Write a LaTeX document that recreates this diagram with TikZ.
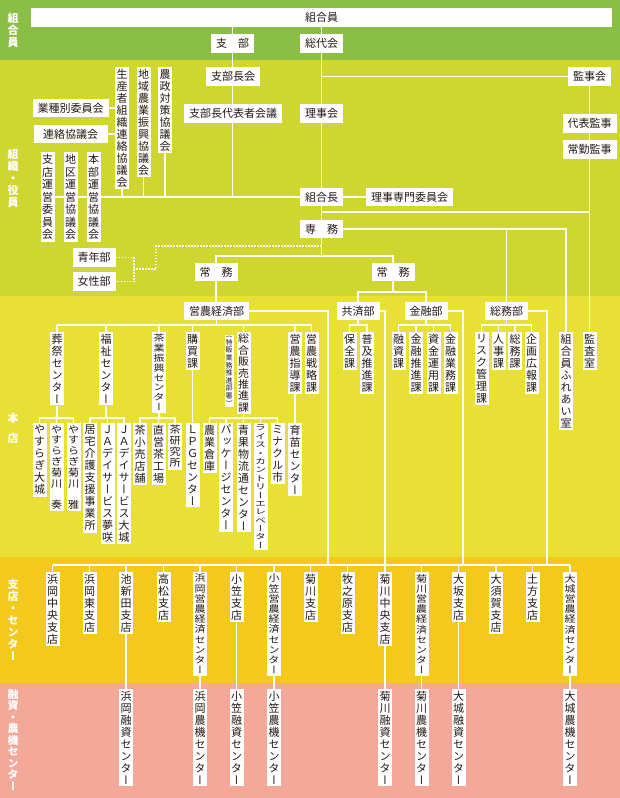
\documentclass[tikz,border=0pt]{standalone}
\usepackage{fontspec}
\setmainfont{Noto Sans CJK JP}
\newfontfamily\jpfont{Noto Sans CJK JP}
\newfontfamily\jpvfont{Noto Sans CJK JP}[RawFeature=+vert]
\usetikzlibrary{calc}

\definecolor{bandkumiai}{HTML}{8BBE45}
\definecolor{bandyakuin}{HTML}{CFD630}
\definecolor{bandhonten}{HTML}{E8E034}
\definecolor{bandshiten}{HTML}{F4C91E}
\definecolor{bandyuushi}{HTML}{F3A899}
\definecolor{ink}{HTML}{231815}

\pgfdeclarelayer{bands}
\pgfdeclarelayer{links}
\pgfsetlayers{bands,links,main}

% vertical text: one glyph per row, optional squeeze factor
\makeatletter
\newcommand\vt[2][1]{%
  \vbox{\baselineskip=#1\dimexpr1.09em\relax\lineskiplimit=-\maxdimen\lineskip=0pt
    \@tfor\vt@c:=#2\do{\hbox to 1em{\hss\ifdim#1pt<1pt\scalebox{1}[#1]{\vt@c}\else\vt@c\fi\hss}}}}
\makeatother

\tikzset{
  hbox/.style={fill=white, text=ink, font=\jpfont\fontsize{11bp}{11bp}\selectfont,
    inner xsep=5bp, inner ysep=0pt, minimum height=18.5bp},
  vbox/.style={fill=white, text=ink, font=\jpvfont\fontsize{11bp}{11bp}\selectfont,
    inner xsep=1.5bp, inner ysep=2bp, anchor=north},
  smallv/.style={font=\jpvfont\fontsize{7bp}{7bp}\selectfont, inner xsep=1bp, inner ysep=1bp},
  bandlabel/.style={text=white, font=\jpvfont\bfseries\fontsize{11bp}{11bp}\selectfont,
    inner sep=0pt, anchor=north},
  link/.style={draw=white, line width=1.3bp},
  dotlink/.style={link, dash pattern=on 1.4bp off 1.6bp}
}

\begin{document}
\begin{tikzpicture}[x=1bp, y=-1bp, line join=bevel]
  \useasboundingbox (0,0) rectangle (620,798);

  % band labels
  \node[bandlabel] (lblKumiai) at (13,13) {\vt{組合員}};
  \node[bandlabel] (lblYakuin) at (13,149) {\vt{組織・役員}};
  \node[bandlabel] (lblHonten) at (13,413) {\vt[1.67]{本店}};
  \node[bandlabel] (lblShiten) at (13,579) {\vt{支店・センター}};
  \node[bandlabel] (lblYuushi) at (13,689) {\vt[0.96]{融資・農機センター}};

  % 組合員
  \node[hbox, minimum width=581bp] (kumiaiin) at (321.5,17.5) {組合員};
  \node[hbox] (sibu) at (232.5,43.5) {支\hspace{1em}部};
  \node[hbox] (soudaikai) at (321.5,43.5) {総代会};

  % 組織・役員
  \node[hbox] (sibuchoukai) at (233,76.5) {支部長会};
  \node[hbox] (kanjikai) at (589.5,76.5) {監事会};
  \node[hbox, minimum width=74bp] (gyoushu) at (70.5,108) {業種別委員会};
  \node[hbox, minimum width=74bp] (renraku) at (70.5,134) {連絡協議会};
  \node[vbox] (seisansha) at (122,67) {\vt{生産者組織連絡協議会}};
  \node[vbox] (chiiki) at (143.5,67) {\vt{地域農業振興協議会}};
  \node[vbox] (nousei) at (165,67) {\vt{農政対策協議会}};
  \node[hbox] (sibudaihyou) at (233,113.5) {支部長代表者会議};
  \node[hbox] (rijikai) at (321.5,113.5) {理事会};
  \node[hbox] (daihyoukanji) at (589.5,123.5) {代表監事};
  \node[hbox] (joukinkanji) at (589.5,149.5) {常勤監事};
  \node[vbox] (shitenunei) at (47.5,152) {\vt[1.05]{支店運営委員会}};
  \node[vbox] (chikuunei) at (70.5,152) {\vt[1.05]{地区運営協議会}};
  \node[vbox] (honbuunei) at (93.5,152) {\vt[1.05]{本部運営協議会}};
  \node[hbox] (kumiaichou) at (321.5,197) {組合長};
  \node[hbox] (senmoniin) at (409.5,197) {理事専門委員会};
  \node[hbox] (senmu) at (321.5,229) {専\hspace{1em}務};
  \node[hbox] (seinenbu) at (94,257.5) {青年部};
  \node[hbox] (joseibu) at (94,281.5) {女性部};
  \node[hbox] (joumuL) at (216,272) {常\hspace{1em}務};
  \node[hbox] (joumuR) at (393,272) {常\hspace{1em}務};

  % 本店
  \node[hbox] (einou) at (216.5,311) {営農経済部};
  \node[hbox] (kyousai) at (358,311) {共済部};
  \node[hbox] (kinyuu) at (426,311) {金融部};
  \node[hbox] (soumu) at (506.5,311) {総務部};

  \node[vbox] (sousai) at (57,332) {\vt{葬祭センター}};
  \node[vbox] (fukushi) at (106,332) {\vt{福祉センター}};
  \node[vbox] (chagyou) at (159,332) {\vt[0.82]{茶業振興センター}};
  \node[vbox] (koubai) at (192.5,332) {\vt{購買課}};
  \node[vbox, smallv] (tokuhan) at (229,335) {\vt{（特販業務推進部署）}};
  \node[vbox] (sougou) at (243.5,332) {\vt[0.95]{総合販売推進課}};
  \node[vbox] (shidou) at (295,332) {\vt{営農指導課}};
  \node[vbox] (senryaku) at (311.5,332) {\vt{営農戦略課}};
  \node[vbox] (hozen) at (349.5,332) {\vt{保全課}};
  \node[vbox] (fukyuu) at (367,332) {\vt{普及推進課}};
  \node[vbox] (yuushika) at (398.5,332) {\vt{融資課}};
  \node[vbox] (kinsuishin) at (416,332) {\vt{金融推進課}};
  \node[vbox] (shikin) at (433.5,332) {\vt{資金運用課}};
  \node[vbox] (kingyoumu) at (450.5,332) {\vt{金融業務課}};
  \node[vbox] (risk) at (481.5,332) {\vt{リスク管理課}};
  \node[vbox] (jinji) at (498.5,332) {\vt{人事課}};
  \node[vbox] (soumuka) at (515,332) {\vt{総務課}};
  \node[vbox] (kikaku) at (531.5,332) {\vt{企画広報課}};
  \node[vbox] (fureai) at (566,332) {\vt{組合員ふれあい室}};
  \node[vbox] (kansa) at (589.5,332) {\vt{監査室}};

  \node[vbox] (yasuOshiro) at (39.5,423) {\vt{やすらぎ大城}};
  \node[vbox] (yasuKanade) at (56.5,423) {\vt[0.9]{やすらぎ菊川{}奏}};
  \node[vbox] (yasuMiyabi) at (73.5,423) {\vt[0.9]{やすらぎ菊川{}雅}};
  \node[vbox] (kyotaku) at (90,423) {\vt{居宅介護支援事業所}};
  \node[vbox] (yumesaki) at (107.5,423) {\vt{ＪＡデイサービス夢咲}};
  \node[vbox] (jaOshiro) at (124,423) {\vt{ＪＡデイサービス大城}};
  \node[vbox] (chaKouri) at (140,423) {\vt{茶小売店舗}};
  \node[vbox] (chokuei) at (158.5,423) {\vt{直営茶工場}};
  \node[vbox] (chaKenkyuu) at (175,423) {\vt[0.92]{茶研究所}};
  \node[vbox] (lpg) at (192.5,423) {\vt{ＬＰＧセンター}};
  \node[vbox] (souko) at (209.5,423) {\vt{農業倉庫}};
  \node[vbox] (package) at (226,423) {\vt{パッケージセンター}};
  \node[vbox] (seika) at (243.5,423) {\vt{青果物流通センター}};
  \node[vbox] (rice) at (260.5,423) {\vt[0.7]{ライス・カントリーエレベーター}};
  \node[vbox] (minakuru) at (277.5,423) {\vt{ミナクル市}};
  \node[vbox] (ikubyou) at (295,423) {\vt{育苗センター}};

  % 支店・センター
  \node[vbox] (hamaokaChuo) at (52.5,572) {\vt{浜岡中央支店}};
  \node[vbox] (hamaokaHigashi) at (89.5,572) {\vt{浜岡東支店}};
  \node[vbox] (ikeshinden) at (126,572) {\vt{池新田支店}};
  \node[vbox] (takamatsu) at (163.5,572) {\vt{高松支店}};
  \node[vbox] (hamaokaEC) at (200,572) {\vt[0.85]{浜岡営農経済センター}};
  \node[vbox] (ogasa) at (236.5,572) {\vt{小笠支店}};
  \node[vbox] (ogasaEC) at (274,572) {\vt[0.85]{小笠営農経済センター}};
  \node[vbox] (kikugawa) at (310.5,572) {\vt{菊川支店}};
  \node[vbox] (makinohara) at (347.5,572) {\vt{牧之原支店}};
  \node[vbox] (kikugawaChuo) at (385,572) {\vt{菊川中央支店}};
  \node[vbox] (kikugawaEC) at (421.5,572) {\vt[0.85]{菊川営農経済センター}};
  \node[vbox] (osaka) at (458.5,572) {\vt{大坂支店}};
  \node[vbox] (osuka) at (496,572) {\vt{大須賀支店}};
  \node[vbox] (hijikata) at (532.5,572) {\vt{土方支店}};
  \node[vbox] (oshiroEC) at (570,572) {\vt[0.85]{大城営農経済センター}};

  % 融資・農機センター
  \node[vbox] (hamaokaYuushi) at (126,689) {\vt{浜岡融資センター}};
  \node[vbox] (hamaokaNouki) at (200,689) {\vt{浜岡農機センター}};
  \node[vbox] (ogasaYuushi) at (236.5,689) {\vt{小笠融資センター}};
  \node[vbox] (ogasaNouki) at (274,689) {\vt{小笠農機センター}};
  \node[vbox] (kikugawaYuushi) at (385,689) {\vt{菊川融資センター}};
  \node[vbox] (kikugawaNouki) at (421.5,689) {\vt{菊川農機センター}};
  \node[vbox] (oshiroYuushi) at (458.5,689) {\vt{大城融資センター}};
  \node[vbox] (oshiroNouki) at (570,689) {\vt{大城農機センター}};

  % forks and turning points
  \coordinate (kanjiLink) at (589.5,212);
  \coordinate (senmuRight) at (566,229);
  \coordinate (dotA) at (156,246);
  \coordinate (dotB) at (134,269);
  \coordinate (joumuFork) at (321.5,256);
  \coordinate (kinFork) at (393,292);
  \coordinate (deptFork) at (216.5,325);
  \coordinate (secFork) at (57,418);
  \coordinate (dropEinou) at (328,565);
  \coordinate (dropKyousai) at (385,565);
  \coordinate (dropKinyuu) at (463,565);
  \coordinate (dropSoumu) at (547,565);

  \begin{pgfonlayer}{bands}
    \fill[bandkumiai] (0,0) rectangle (620,60);
    \fill[bandyakuin] (0,60) rectangle (620,296);
    \fill[bandhonten] (0,296) rectangle (620,557);
    \fill[bandshiten] (0,557) rectangle (620,683);
    \fill[bandyuushi] (0,683) rectangle (620,798);
  \end{pgfonlayer}

  \begin{pgfonlayer}{links}
    % top
    \draw[link] (kumiaiin.south -| sibu) -- (sibu |- kumiaichou);
    \draw[link] (kumiaiin.south -| soudaikai) -- (joumuFork);
    \draw[link] (soudaikai |- kanjikai) -- (kanjikai.west);
    \draw[link] (kanjikai) -- (kanjikai |- kansa.north);
    \draw[link] (kumiaichou |- kanjiLink) -- (kanjiLink);
    \draw[link] (kumiaichou.east) -- (senmoniin.west);
    % left councils
    \draw[link] (shitenunei.east |- kumiaichou) -- (kumiaichou.west);
    \draw[link] (seisansha.south) -- (seisansha |- kumiaichou);
    \draw[link] (chiiki.south) -- (chiiki |- kumiaichou);
    \draw[link] (nousei.south) -- (nousei |- kumiaichou);
    \draw[link] (gyoushu.east) -- (gyoushu -| seisansha.west);
    \draw[link] (renraku.east) -- (renraku -| seisansha.west);
    % 専務
    \draw[link] (senmu.east) -- (senmuRight) -- (senmuRight |- fureai.north);
    \draw[link] (soumu.north) -- (soumu |- senmu);
    \draw[dotlink] (senmu |- dotA) -- (dotA) -- (dotA |- dotB) -- (dotB);
    \draw[dotlink] (seinenbu.east) -- (seinenbu -| dotB) -- (joseibu -| dotB) -- (joseibu.east);
    \draw[link] (joumuL.north) -- (joumuL |- joumuFork) -- (joumuR |- joumuFork) -- (joumuR.north);
    \draw[link] (joumuL.south) -- (joumuL.south |- einou.north);
    \draw[link] (joumuR.south) -- (kinFork);
    \draw[link] (kyousai.north) -- (kyousai |- kinFork) -- (kinyuu |- kinFork) -- (kinyuu.north);
    % departments down to branches
    \draw[link] (einou.east) -- (einou -| dropEinou) -- (dropEinou);
    \draw[link] (kyousai.east) -- (kyousai -| dropKyousai) -- (dropKyousai);
    \draw[link] (kinyuu.east) -- (kinyuu -| dropKinyuu) -- (dropKinyuu);
    \draw[link] (soumu.east) -- (soumu -| dropSoumu) -- (dropSoumu);
    % 営農経済部
    \draw[link] (einou.south) -- (deptFork);
    \draw[link] (sousai |- deptFork) -- (senryaku |- deptFork);
    \draw[link] (sousai.north) -- (sousai |- deptFork);
    \draw[link] (fukushi.north) -- (fukushi |- deptFork);
    \draw[link] (chagyou.north) -- (chagyou |- deptFork);
    \draw[link] (koubai.north) -- (koubai |- deptFork);
    \draw[link] (sougou.north) -- (sougou |- deptFork);
    \draw[link] (shidou.north) -- (shidou |- deptFork);
    \draw[link] (senryaku.north) -- (senryaku |- deptFork);
    % 共済部, 金融部, 総務部
    \draw[link] (kyousai.south) -- (kyousai |- deptFork);
    \draw[link] (hozen.north) -- (hozen |- deptFork) -- (fukyuu |- deptFork) -- (fukyuu.north);
    \draw[link] (kinyuu.south) -- (kinyuu |- deptFork);
    \draw[link] (yuushika.north) -- (yuushika |- deptFork) -- (kingyoumu |- deptFork) -- (kingyoumu.north);
    \draw[link] (kinsuishin.north) -- (kinsuishin |- deptFork);
    \draw[link] (shikin.north) -- (shikin |- deptFork);
    \draw[link] (soumu.south) -- (soumu |- deptFork);
    \draw[link] (risk.north) -- (risk |- deptFork) -- (kikaku |- deptFork) -- (kikaku.north);
    \draw[link] (jinji.north) -- (jinji |- deptFork);
    \draw[link] (soumuka.north) -- (soumuka |- deptFork);
    % second level
    \draw[link] (sousai.south) -- (sousai |- secFork);
    \draw[link] (yasuOshiro.north) -- (yasuOshiro |- secFork) -- (yasuMiyabi |- secFork) -- (yasuMiyabi.north);
    \draw[link] (yasuKanade.north) -- (yasuKanade |- secFork);
    \draw[link] (fukushi.south) -- (fukushi |- secFork);
    \draw[link] (kyotaku.north) -- (kyotaku |- secFork) -- (jaOshiro |- secFork) -- (jaOshiro.north);
    \draw[link] (yumesaki.north) -- (yumesaki |- secFork);
    \draw[link] (chagyou.south) -- (chagyou |- secFork);
    \draw[link] (chaKouri.north) -- (chaKouri |- secFork) -- (chaKenkyuu |- secFork) -- (chaKenkyuu.north);
    \draw[link] (chokuei.north) -- (chokuei |- secFork);
    \draw[link] (koubai.south) -- (lpg.north);
    \draw[link] (sougou.south) -- (sougou |- secFork);
    \draw[link] (souko.north) -- (souko |- secFork) -- (minakuru |- secFork) -- (minakuru.north);
    \draw[link] (package.north) -- (package |- secFork);
    \draw[link] (seika.north) -- (seika |- secFork);
    \draw[link] (rice.north) -- (rice |- secFork);
    \draw[link] (shidou.south) -- (ikubyou.north);
    % branches
    \draw[link] (hamaokaChuo |- dropEinou) -- (oshiroEC |- dropEinou);
    \draw[link] (hamaokaChuo.north) -- (hamaokaChuo |- dropEinou);
    \draw[link] (hamaokaHigashi.north) -- (hamaokaHigashi |- dropEinou);
    \draw[link] (ikeshinden.north) -- (ikeshinden |- dropEinou);
    \draw[link] (takamatsu.north) -- (takamatsu |- dropEinou);
    \draw[link] (hamaokaEC.north) -- (hamaokaEC |- dropEinou);
    \draw[link] (ogasa.north) -- (ogasa |- dropEinou);
    \draw[link] (ogasaEC.north) -- (ogasaEC |- dropEinou);
    \draw[link] (kikugawa.north) -- (kikugawa |- dropEinou);
    \draw[link] (makinohara.north) -- (makinohara |- dropEinou);
    \draw[link] (kikugawaChuo.north) -- (kikugawaChuo |- dropEinou);
    \draw[link] (kikugawaEC.north) -- (kikugawaEC |- dropEinou);
    \draw[link] (osaka.north) -- (osaka |- dropEinou);
    \draw[link] (osuka.north) -- (osuka |- dropEinou);
    \draw[link] (hijikata.north) -- (hijikata |- dropEinou);
    \draw[link] (oshiroEC.north) -- (oshiroEC |- dropEinou);
    % centres
    \draw[link] (ikeshinden.south) -- (hamaokaYuushi.north);
    \draw[link] (hamaokaEC.south) -- (hamaokaNouki.north);
    \draw[link] (ogasa.south) -- (ogasaYuushi.north);
    \draw[link] (ogasaEC.south) -- (ogasaNouki.north);
    \draw[link] (kikugawaChuo.south) -- (kikugawaYuushi.north);
    \draw[link] (kikugawaEC.south) -- (kikugawaNouki.north);
    \draw[link] (osaka.south) -- (oshiroYuushi.north);
    \draw[link] (oshiroEC.south) -- (oshiroNouki.north);
  \end{pgfonlayer}
\end{tikzpicture}
\end{document}
